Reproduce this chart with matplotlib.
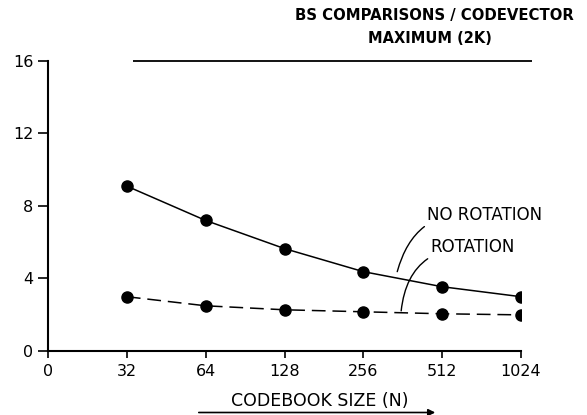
import matplotlib
matplotlib.use("Agg")
import matplotlib.pyplot as plt
from matplotlib.patches import FancyArrowPatch

# Codebook sizes and binary-search comparisons per codevector
codebook_sizes = ["32", "64", "128", "256", "512", "1024"]
no_rotation = [9.08, 7.19, 5.64, 4.37, 3.54, 2.99]
rotation = [2.99, 2.49, 2.27, 2.16, 2.05, 1.99]
maximum_2k = 16
y_ticks = [0, 4, 8, 12, 16]

plt.rcParams["font.family"] = ["DejaVu Sans"]

W, H = 587, 415
fig = plt.figure(figsize=(W / 100, H / 100), dpi=100)
ax = fig.add_axes([48 / W, (H - 351) / H, 473 / W, 290.5 / H])

pos = list(range(1, len(codebook_sizes) + 1))

ax.plot(pos, no_rotation, color="black", lw=1.1, marker="o", ms=8)
ax.plot(pos, rotation, color="black", lw=1.1, ls=(0, (9, 4.5)),
        marker="o", ms=8)

# Maximum line (2K)
ax.hlines(maximum_2k, 1.08, 6.14, color="black", lw=1.3, clip_on=False)
ax.text(4.85, 17.2, "MAXIMUM (2K)", ha="center", va="center",
        fontsize=10.5, fontweight="bold", clip_on=False)
ax.text(4.9, 18.5, "BS COMPARISONS / CODEVECTOR", ha="center",
        va="center", fontsize=10.7, fontweight="bold", clip_on=False)

ax.set_xlim(0, 6)
ax.set_ylim(0, 16)
ax.set_xticks([0] + pos)
ax.set_xticklabels(["0"] + codebook_sizes, fontsize=11.5)
ax.set_yticks(y_ticks)
ax.set_yticklabels([str(t) for t in y_ticks], fontsize=11.5)
ax.tick_params(axis="x", direction="out", length=5, width=1.2, pad=4)
ax.tick_params(axis="y", direction="out", length=7, width=1.2, pad=3.5)
for s in ("top", "right"):
    ax.spines[s].set_visible(False)
for s in ("left", "bottom"):
    ax.spines[s].set_linewidth(1.5)

# Curve labels with curved leaders
ax.annotate("NO ROTATION", xy=(4.43, 4.37), xytext=(4.81, 7.47),
            ha="left", va="center", fontsize=12,
            arrowprops=dict(arrowstyle="-", lw=1.0, color="black",
                            connectionstyle="arc3,rad=0.45",
                            shrinkA=0, shrinkB=0))
ax.annotate("ROTATION", xy=(4.48, 2.21), xytext=(4.85, 5.73),
            ha="left", va="center", fontsize=12,
            arrowprops=dict(arrowstyle="-", lw=1.0, color="black",
                            connectionstyle="arc3,rad=0.45",
                            shrinkA=0, shrinkB=0))

fig.text(320 / W, 1 - 401 / H, "CODEBOOK SIZE (N)", ha="center",
         va="center", fontsize=12.5)
fig.patches.append(FancyArrowPatch(
    (196 / W, 1 - 412.5 / H), (438 / W, 1 - 412.5 / H),
    transform=fig.transFigure, arrowstyle="-|>", mutation_scale=10,
    lw=1.2, color="black"))

fig.savefig("out.png", dpi=100)
